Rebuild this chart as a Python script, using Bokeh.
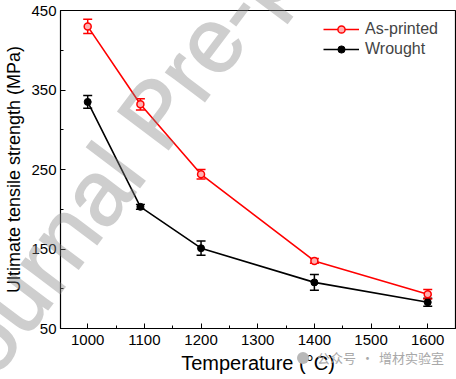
from bokeh.plotting import figure
from bokeh.layouts import column
from bokeh.models import (ColumnDataSource, Whisker, FixedTicker, Range1d,
                          Legend, LegendItem, Div)
from bokeh.embed import file_html
from bokeh.resources import INLINE

# Ultimate tensile strength vs. test temperature
temp_printed = [1000, 1093, 1200, 1400, 1600]
uts_printed = [430, 332, 244, 135, 93]
err_printed = [9, 7, 6, 3, 6]

temp_wrought = [1000, 1093, 1200, 1400, 1600]
uts_wrought = [335, 203, 151, 108, 83]
err_wrought = [8, 3, 9, 10, 5]

x_ticks = [1000, 1100, 1200, 1300, 1400, 1500, 1600]
y_ticks = [50, 150, 250, 350, 450]

FONT = "Liberation Sans"

p = figure(width=456, height=379, output_backend="svg", toolbar_location=None,
           x_range=Range1d(952, 1649), y_range=Range1d(50, 450),
           min_border_left=60, min_border_right=1, min_border_top=10,
           min_border_bottom=51)
p.xgrid.visible = False
p.ygrid.visible = False
p.outline_line_color = "black"
p.outline_line_width = 1.2
p.background_fill_color = "white"
p.border_fill_color = "white"

src_p = ColumnDataSource(dict(x=temp_printed, y=uts_printed,
                              lo=[v - e for v, e in zip(uts_printed, err_printed)],
                              hi=[v + e for v, e in zip(uts_printed, err_printed)]))
src_w = ColumnDataSource(dict(x=temp_wrought, y=uts_wrought,
                              lo=[v - e for v, e in zip(uts_wrought, err_wrought)],
                              hi=[v + e for v, e in zip(uts_wrought, err_wrought)]))

for src, col in ((src_w, "black"), (src_p, "#ff0000")):
    w = Whisker(source=src, base="x", lower="lo", upper="hi",
                line_color=col, line_width=1.5)
    w.upper_head.size = 9
    w.lower_head.size = 9
    w.upper_head.line_color = col
    w.lower_head.line_color = col
    w.upper_head.line_width = 1.5
    w.lower_head.line_width = 1.5
    p.add_layout(w)

lw = p.line("x", "y", source=src_w, line_color="black", line_width=1.6)
mw = p.scatter("x", "y", source=src_w, size=7, fill_color="black",
               line_color="black")
lp = p.line("x", "y", source=src_p, line_color="#ff0000", line_width=1.6)
mp = p.scatter("x", "y", source=src_p, size=7, fill_color="#ffb0b0",
               line_color="#ff0000", line_width=1.5)

legend = Legend(items=[LegendItem(label="As-printed", renderers=[lp, mp]),
                       LegendItem(label="Wrought", renderers=[lw, mw])],
                location="top_right", border_line_color=None,
                background_fill_alpha=0, label_text_font=FONT,
                label_text_font_size="16px", glyph_width=36, glyph_height=18,
                spacing=2, padding=6, margin=10, label_standoff=6,
                label_width=80)
p.add_layout(legend)

for ax in (p.xaxis[0], p.yaxis[0]):
    ax.major_tick_in = 5
    ax.major_tick_out = 0
    ax.minor_tick_in = 3
    ax.minor_tick_out = 0
    ax.axis_line_color = "black"
    ax.major_tick_line_color = "black"
    ax.minor_tick_line_color = "black"
    ax.major_label_text_font = FONT
    ax.major_label_text_font_size = "15px"
    ax.major_label_text_color = "black"
    ax.axis_label_text_font = FONT
    ax.axis_label_text_font_style = "normal"
    ax.axis_label_text_color = "black"

p.xaxis.ticker = FixedTicker(ticks=x_ticks,
                             minor_ticks=[1050, 1150, 1250, 1350, 1450, 1550])
p.yaxis.ticker = FixedTicker(ticks=y_ticks, minor_ticks=[100, 200, 300, 400])
p.xaxis.axis_label = "Temperature (°C)"
p.xaxis.axis_label_text_font_size = "20px"
p.xaxis.major_label_standoff = 6
p.xaxis.axis_label_standoff = 4
p.yaxis.axis_label = "Ultimate tensile strength (MPa)"
p.yaxis.axis_label_text_font_size = "18px"
p.yaxis.major_label_standoff = 4
p.yaxis.axis_label_standoff = 4

# Diagonal watermark laid over the whole canvas
watermark = Div(text="Journal Pre-proof", styles={
    "position": "absolute", "left": "-38px", "top": "334px",
    "transform-origin": "0px 78px", "transform": "rotate(-53deg)",
    "font-family": FONT, "font-size": "92px", "line-height": "1",
    "color": "#808080", "opacity": "0.38", "white-space": "nowrap",
    "-webkit-text-stroke": "1.5px #808080",
    "pointer-events": "none", "overflow": "visible", "z-index": "5"})

# Source caption at the lower right
caption = Div(
    text=('<span style="display:inline-block;width:12px;height:12px;'
          'border-radius:50%;background:#b8b8b8;vertical-align:-1px;'
          'margin-right:8px"></span>公众号'
          '<span style="margin:0 5px">·</span>增材实验室'),
    styles={
        "position": "absolute", "left": "297px", "top": "351px",
        "margin": "0", "padding": "0", "width": "max-content",
        "font-family": "Noto Sans CJK SC", "font-size": "13px",
        "line-height": "1", "color": "#a8a8a8", "white-space": "nowrap",
        "pointer-events": "none", "z-index": "6"})

layout = column(p, watermark, caption)
open("out.html", "w").write(file_html(layout, INLINE))
